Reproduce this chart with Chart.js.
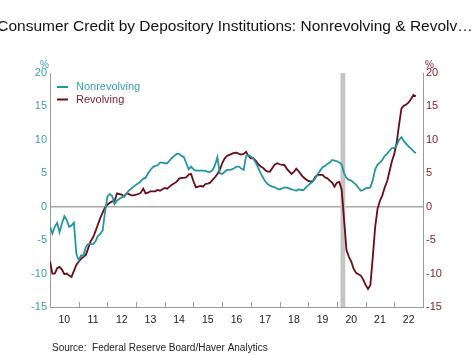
<!DOCTYPE html>
<html><head><meta charset="utf-8">
<script src="https://cdn.jsdelivr.net/npm/chart.js@4/dist/chart.umd.min.js"></script>
<style>html,body{margin:0;padding:0;background:#fff}#wrap{width:474px;height:355px;position:relative}</style>
</head><body><div id="wrap"><canvas id="c" width="474" height="355"></canvas></div>
<script>
// ---- data ----
const startYear = 2010;          // first monthly observation: Jan 2010
const yearLabels = ['10','11','12','13','14','15','16','17','18','19','20','21','22'];
const yTicks = [-15,-10,-5,0,5,10,15,20];
const recession = { start: '2020-02', end: '2020-04' };
const nonrevolving = [
 -3.0,-4.0,-3.0,-2.4,-3.8,-2.5,-1.4,-2.0,-3.0,-2.8,-2.4,-7.0,
 -8.0,-7.3,-7.3,-6.0,-5.6,-5.6,-5.6,-5.2,-4.4,-4.1,-3.6,-0.8,
 1.5,1.9,1.6,0.4,0.9,1.2,1.4,1.6,1.9,2.45,2.7,3.0,
 3.3,3.5,3.8,4.2,4.3,5.0,5.5,5.9,6.1,6.2,6.6,6.6,
 6.5,6.5,6.9,7.3,7.6,7.9,7.9,7.6,7.4,6.5,5.6,6.0,
 5.6,5.4,5.4,5.4,5.4,5.35,5.2,5.2,5.5,6.2,7.4,5.0,
 4.9,5.2,5.5,5.5,5.6,5.75,6.0,6.0,5.7,5.5,7.6,7.7,
 7.5,7.2,6.6,5.9,5.1,4.4,3.8,3.4,3.15,3.0,2.9,2.7,
 2.6,2.7,2.9,2.85,2.75,2.6,2.5,2.4,2.6,2.5,2.5,2.9,
 3.2,3.5,3.8,4.3,4.9,5.4,5.9,6.1,6.4,6.6,7.0,6.9,
 6.8,6.6,6.3,5.0,4.3,4.0,3.9,3.6,3.3,2.8,2.4,2.5,
 2.75,2.8,2.9,4.0,5.6,6.3,6.6,7.0,7.6,7.9,8.4,8.75,
 8.75,9.2,10.0,10.4,9.8,9.4,9.0,8.7,8.3,8.0
];
const revolving = [
 -8.2,-10.0,-10.0,-9.2,-9.0,-9.4,-10.1,-10.0,-10.3,-10.5,-9.6,-8.7,
 -8.2,-7.8,-7.5,-7.2,-6.2,-5.2,-4.6,-3.7,-2.7,-1.7,-0.9,-0.1,
 0.3,0.6,0.8,0.8,2.0,1.9,1.8,1.5,2.0,1.9,1.7,1.7,
 1.8,1.9,2.1,2.7,2.0,2.1,2.3,2.3,2.3,2.5,2.4,2.6,
 2.8,2.7,3.0,3.3,3.5,3.75,4.2,4.3,4.3,4.4,4.8,4.9,
 3.8,2.9,3.0,3.1,3.0,3.4,3.45,3.6,4.0,4.4,4.9,5.5,
 6.5,7.2,7.6,7.75,7.9,8.05,8.1,7.9,7.8,7.9,8.2,7.6,
 7.25,7.25,6.9,6.4,6.05,5.85,5.5,5.25,5.25,5.8,6.3,6.5,
 6.35,6.25,6.25,5.7,5.3,4.9,5.2,5.7,5.3,4.8,4.4,4.1,
 3.85,3.75,3.85,4.5,4.75,4.75,4.75,4.4,4.25,3.9,3.6,3.0,
 3.6,3.7,2.5,-2.0,-6.5,-7.5,-8.2,-9.3,-9.9,-10.1,-10.3,-10.9,
 -11.7,-12.3,-11.7,-7.5,-3.0,-0.3,0.9,1.7,2.9,3.8,5.3,6.8,
 7.9,9.6,12.3,14.7,15.1,15.3,15.6,16.1,16.7,16.5
];
const seriesNames = ['Nonrevolving','Revolving'];
const titleText = 'Consumer Credit by Depository Institutions: Nonrevolving & Revolv\u2026';
const sourceText = 'Source:  Federal Reserve Board/Haver Analytics';

// ---- styles ----
const TEAL = '#2396a2';
const DRED = '#6a0b16';
const TEAL_TXT = '#3a9fae';
const DRED_TXT = '#7b1c26';
const AXIS = '#9a9a9a';
const FONT = '"Liberation Sans", Arial, sans-serif';

const toPoints = arr => arr.map((v, i) => ({ x: startYear + i / 12, y: v }));
const ymToYear = s => { const [y, m] = s.split('-').map(Number); return y + (m - 0.5) / 12; };

const decor = {
  id: 'decor',
  beforeDatasetsDraw(chart) {
    const { ctx, chartArea: a, scales } = chart;
    const x = scales.x;
    const x0 = x.getPixelForValue(ymToYear(recession.start));
    const x1 = x.getPixelForValue(ymToYear(recession.end));
    ctx.save();
    ctx.fillStyle = '#c4c4c4';
    ctx.fillRect(x0, a.top, x1 - x0, a.bottom - a.top);
    ctx.strokeStyle = AXIS; ctx.lineWidth = 1;
    for (let i = 1; i < yearLabels.length; i++) {
      const px = Math.round(x.getPixelForValue(startYear + i)) + 0.5;
      ctx.beginPath(); ctx.moveTo(px, a.bottom); ctx.lineTo(px, a.bottom - 5); ctx.stroke();
    }
    ctx.restore();
  },
  afterDraw(chart) {
    const { ctx, chartArea: a } = chart;
    ctx.save();
    ctx.fillStyle = '#111';
    ctx.font = '15.5px ' + FONT;
    ctx.textAlign = 'center'; ctx.textBaseline = 'alphabetic';
    ctx.fillText(titleText, 235, 31);
    ctx.font = '10px ' + FONT;
    ctx.textAlign = 'right'; ctx.fillStyle = TEAL_TXT;
    ctx.fillText('%', a.left - 1, 68);
    ctx.textAlign = 'left'; ctx.fillStyle = DRED_TXT;
    ctx.fillText('%', a.right + 2, 68);
    const ds = chart.data.datasets;
    const txtCols = [TEAL_TXT, DRED_TXT];
    ctx.font = '11px ' + FONT;
    ds.forEach((d, i) => {
      const yy = 87 + i * 12.5;
      ctx.strokeStyle = d.borderColor; ctx.lineWidth = 2;
      ctx.beginPath(); ctx.moveTo(57, yy); ctx.lineTo(68, yy); ctx.stroke();
      ctx.fillStyle = txtCols[i]; ctx.textAlign = 'left'; ctx.textBaseline = 'middle';
      ctx.fillText(d.label, 76, yy);
    });
    ctx.font = '10px ' + FONT;
    ctx.fillStyle = '#222'; ctx.textAlign = 'left'; ctx.textBaseline = 'alphabetic';
    ctx.fillText(sourceText, 52, 351);
    ctx.restore();
  }
};

new Chart(document.getElementById('c'), {
  type: 'line',
  data: {
    datasets: [
      { label: seriesNames[0], data: toPoints(nonrevolving), borderColor: TEAL, borderWidth: 1.8, pointRadius: 0, tension: 0, yAxisID: 'y' },
      { label: seriesNames[1], data: toPoints(revolving), borderColor: DRED, borderWidth: 1.8, pointRadius: 0, tension: 0, yAxisID: 'y' }
    ]
  },
  options: {
    responsive: false, animation: false, events: [],
    layout: { padding: { top: 73, bottom: 0, left: 0, right: 0 } },
    plugins: { legend: { display: false }, tooltip: { enabled: false }, title: { display: false } },
    scales: {
      x: {
        type: 'linear', min: startYear, max: startYear + yearLabels.length,
        afterBuildTicks: s => { s.ticks = yearLabels.map((l, i) => ({ value: startYear + i + 0.5 })); },
        afterFit: s => { s.height = 48; },
        ticks: { autoSkip: false, maxRotation: 0, padding: 7, color: '#222', font: { family: FONT, size: 10.5 },
          callback: (v, i) => yearLabels[i] },
        grid: { display: false, drawTicks: false },
        border: { display: true, color: AXIS, width: 1 }
      },
      y: {
        position: 'left', min: -15, max: 20,
        afterBuildTicks: s => { s.ticks = yTicks.map(v => ({ value: v })); },
        afterFit: s => { s.width = 50; },
        ticks: { color: TEAL_TXT, padding: 3, font: { family: FONT, size: 11 } },
        grid: { drawTicks: false, lineWidth: 1.5, color: c => (c.tick && c.tick.value === 0) ? '#a8a8a8' : 'rgba(0,0,0,0)' },
        border: { display: true, color: AXIS, width: 1 }
      },
      y2: {
        position: 'right', min: -15, max: 20,
        afterBuildTicks: s => { s.ticks = yTicks.map(v => ({ value: v })); },
        afterFit: s => { s.width = 51; },
        ticks: { color: DRED_TXT, padding: 3, font: { family: FONT, size: 11 } },
        grid: { display: false, drawTicks: false },
        border: { display: true, color: AXIS, width: 1 }
      }
    }
  },
  plugins: [decor]
});
</script>
</body></html>
